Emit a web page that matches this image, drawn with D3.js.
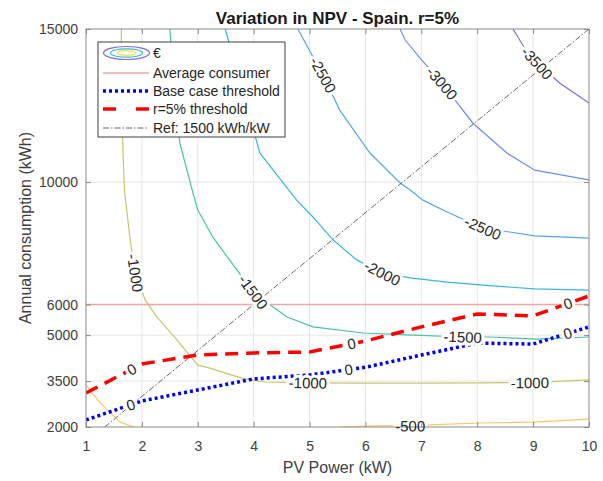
<!DOCTYPE html>
<html><head><meta charset="utf-8">
<script src="https://cdn.jsdelivr.net/npm/d3@7"></script>
<style>
body{margin:0;background:#fff;}
svg{font-family:"Liberation Sans",Arial,Helvetica,sans-serif;}
</style></head>
<body><svg id="c" width="603" height="481"></svg>
<script>
// ---------- data ----------
const xTicks = [1,2,3,4,5,6,7,8,9,10];
const yTicks = [2000,3500,5000,6000,10000,15000];
const levels = [-3500,-3000,-2500,-2000,-1500,-1000,-500];

// contour polylines [PV kW, kWh]
const npv_m3500 = [[8.64,15000],[8.89,14250],[9.07,13890],[9.48,13230],[10,12580]];
const npv_m3000 = [[6.62,15000],[6.71,14640],[7.0,14000],[7.37,13230],[7.92,11930],[8.53,10950],[9.03,10390],[10,10070]];
const npv_m2500 = [[4.79,15000],[5.0,14300],[5.24,13500],[5.54,12350],[6.08,10950],[6.62,9970],[6.8,9740],[7.03,9410],[7.46,9020],[8.1,8500],[8.58,8370],[9.03,8240],[10,8170]];
const npv_m2000 = [[3.49,15000],[3.70,13660],[4.11,10950],[4.45,10150],[4.77,9410],[5.06,8860],[5.42,8110],[5.85,7450],[6.30,7030],[6.80,6870],[7.46,6735],[8.05,6640],[9.03,6510],[10,6470]];
const npv_m1500 = [[2.50,15000],[2.58,13000],[2.68,11270],[2.90,9740],[3.0,9090],[3.27,8200],[3.70,7130],[3.99,6410],[4.35,5920],[4.60,5590],[5.06,5270],[5.96,5070],[6.85,5000],[7.74,4940],[8.23,4940],[9.07,4870],[10,4940]];
const npv_m1000 = [[1.63,15000],[1.66,11000],[1.69,9700],[1.79,8110],[1.88,7030],[2.06,6150],[2.27,5590],[2.6,4900],[3.0,4020],[3.2,3930],[3.8,3590],[4.2,3470],[5,3440],[6,3430],[7,3430],[8,3440],[9,3460],[10,3540]];
const npv_m500a = [[1,3380],[1.2,2900],[1.38,2560],[1.61,2160],[1.85,2000]];
const npv_m500b = [[5.55,2000],[6.0,2030],[6.8,2050],[7.15,2070],[8.05,2130],[9.0,2160],[10,2260]];

// contour label anchors [PV kW, kWh]
const lab_m3500 = [[9.07,13890]];
const lab_m3000 = [[7.37,13230]];
const lab_m2500 = [[5.24,13500],[8.1,8500]];
const lab_m2000 = [[6.30,7030]];
const lab_m1500 = [[3.99,6410],[7.74,4940]];
const lab_m1000 = [[1.88,7030],[4.97,3440],[8.94,3445]];
const lab_m500  = [[6.8,2030]];

// thresholds (NPV = 0) vs PV power
const pvPower = [1,2,3,4,5,6,7,8,9,10];
const baseThreshold = [2230,2850,3210,3570,3700,3950,4350,4740,4710,5270];
const r5Threshold   = [3110,4060,4350,4420,4450,4810,5270,5690,5630,6280];
const baseLabelX = [1.80,5.70,9.62];
const r5LabelX   = [1.82,5.75,9.62];

const averageConsumer = 6000;
const refYield = 1500; // kWh/kW

const legendLabels = ["€","Average consumer","Base case threshold","r=5% threshold","Ref: 1500 kWh/kW"];
const title = "Variation in NPV - Spain. r=5%";

// ---------- drawing ----------
const levelColor = {"-3500":"#7c70d8","-3000":"#6e8cf0","-2500":"#52a6f2","-2000":"#34b7e2","-1500":"#45c4a6","-1000":"#c9c66c","-500":"#fbc85e"};
const L=86,R=589,T=29,B=427;
const x = d3.scaleLinear([1,10],[L,R]);
const y = d3.scaleLinear([2000,15000],[B,T]);
const svg = d3.select("#c");

svg.append("defs").append("clipPath").attr("id","clip")
  .append("rect").attr("x",L).attr("y",T).attr("width",R-L).attr("height",B-T);

// grid
const grid = svg.append("g");
grid.selectAll(".gx").data(xTicks.slice(1,-1)).join("line")
  .attr("x1",d=>x(d)).attr("x2",d=>x(d)).attr("y1",T).attr("y2",B)
  .attr("stroke","#e6e6e6").attr("stroke-width",1);
grid.selectAll(".gy").data(yTicks.slice(1,-1)).join("line")
  .attr("y1",d=>y(d)).attr("y2",d=>y(d)).attr("x1",L).attr("x2",R)
  .attr("stroke","#e6e6e6").attr("stroke-width",1);

const plot = svg.append("g").attr("clip-path","url(#clip)");
const line = d3.line().x(d=>x(d[0])).y(d=>y(d[1]));

const contours = [
  {lv:-3500, pts:npv_m3500, labs:lab_m3500},
  {lv:-3000, pts:npv_m3000, labs:lab_m3000},
  {lv:-2500, pts:npv_m2500, labs:lab_m2500},
  {lv:-2000, pts:npv_m2000, labs:lab_m2000},
  {lv:-1500, pts:npv_m1500, labs:lab_m1500},
  {lv:-1000, pts:npv_m1000, labs:lab_m1000},
  {lv:-500,  pts:npv_m500a, labs:[]},
  {lv:-500,  pts:npv_m500b, labs:lab_m500},
];
contours.forEach(c=>{
  plot.append("path").attr("d",line(c.pts)).attr("fill","none")
    .attr("stroke",levelColor[c.lv]).attr("stroke-width",1.2);
});

// average consumer
plot.append("line").attr("x1",L).attr("x2",R).attr("y1",y(averageConsumer)).attr("y2",y(averageConsumer))
  .attr("stroke","#f7a3a3").attr("stroke-width",1.6);
// ref line
plot.append("path").attr("d",line([[2000/refYield,2000],[10,10*refYield]]))
  .attr("fill","none").attr("stroke","#555").attr("stroke-width",0.9).attr("stroke-dasharray","6,2,1.5,2");
// thresholds
const baseData = pvPower.map((p,i)=>[p,baseThreshold[i]]);
const r5Data = pvPower.map((p,i)=>[p,r5Threshold[i]]);
plot.append("path").attr("d",line(r5Data)).attr("fill","none")
  .attr("stroke","#ff0000").attr("stroke-width",3.5).attr("stroke-dasharray","13,8");
plot.append("path").attr("d",line(baseData)).attr("fill","none")
  .attr("stroke","#0000ff").attr("stroke-width",3.5).attr("stroke-dasharray","3,3");

// labels
function angleAt(pts, px, py){
  let best=1e9, ang=0;
  for(let i=0;i<pts.length-1;i++){
    const x1=x(pts[i][0]),y1=y(pts[i][1]),x2=x(pts[i+1][0]),y2=y(pts[i+1][1]);
    const dx=x2-x1, dy=y2-y1, l2=dx*dx+dy*dy;
    let t=((px-x1)*dx+(py-y1)*dy)/l2; t=Math.max(0,Math.min(1,t));
    const qx=x1+t*dx, qy=y1+t*dy, d=(qx-px)**2+(qy-py)**2;
    if(d<best){best=d; ang=Math.atan2(dy,dx)*180/Math.PI;}
  }
  if(ang>90) ang-=180; if(ang<-90) ang+=180;
  return ang;
}
const labels=[];
contours.forEach(c=>c.labs.forEach(a=>{
  const px=x(a[0]), py=y(a[1]);
  labels.push({t:String(c.lv), px, py, ang:angleAt(c.pts,px,py)});
}));
function thrLabels(data, xs){
  xs.forEach(v=>{
    const i=Math.min(data.length-2,Math.floor(v-1));
    const f=v-data[i][0];
    const val=data[i][1]+(data[i+1][1]-data[i][1])*f;
    const px=x(v), py=y(val);
    labels.push({t:"0",px,py,ang:angleAt(data,px,py)});
  });
}
thrLabels(r5Data, r5LabelX);
thrLabels(baseData, baseLabelX);

const halo = svg.append("g");
labels.forEach(l=>{
  halo.append("text").attr("transform",`translate(${l.px},${l.py}) rotate(${l.ang})`)
    .attr("text-anchor","middle").attr("dy","0.36em").attr("font-size",15)
    .attr("fill","#fff").attr("stroke","#fff").attr("stroke-width",6).attr("stroke-linejoin","round")
    .text(l.t);
});

// axes box + ticks
const ax = svg.append("g").attr("font-size",14);
const axColor="#8a8a8a";
ax.append("rect").attr("x",L).attr("y",T).attr("width",R-L).attr("height",B-T)
  .attr("fill","none").attr("stroke",axColor).attr("stroke-width",1);
const gb = ax.append("g").attr("transform",`translate(0,${B})`)
  .call(d3.axisBottom(x).tickValues(xTicks).tickSizeInner(-5).tickSizeOuter(0).tickPadding(14).tickFormat(d3.format("d")));
const gl = ax.append("g").attr("transform",`translate(${L},0)`)
  .call(d3.axisLeft(y).tickValues(yTicks).tickSizeInner(-5).tickSizeOuter(0).tickPadding(8).tickFormat(d3.format("d")));
const gt = ax.append("g").attr("transform",`translate(0,${T})`)
  .call(d3.axisTop(x).tickValues(xTicks).tickSizeInner(-5).tickSizeOuter(0).tickFormat(""));
const gr = ax.append("g").attr("transform",`translate(${R},0)`)
  .call(d3.axisRight(y).tickValues(yTicks).tickSizeInner(-5).tickSizeOuter(0).tickFormat(""));
[gb,gl,gt,gr].forEach(g=>{
  g.select(".domain").remove();
  g.selectAll(".tick line").attr("stroke",axColor);
  g.selectAll("text").attr("fill","#404040").attr("font-size",14).attr("font-family",null);
  g.attr("font-family",null);
});

// label texts
const lt = svg.append("g");
labels.forEach(l=>{
  lt.append("text").attr("transform",`translate(${l.px},${l.py}) rotate(${l.ang})`)
    .attr("text-anchor","middle").attr("dy","0.36em").attr("font-size",15).attr("fill","#262626")
    .text(l.t);
});

// titles
svg.append("text").attr("x",(L+R)/2).attr("y",24).attr("text-anchor","middle")
  .attr("font-size",17).attr("font-weight","bold").attr("fill","#1a1a1a").text(title);
svg.append("text").attr("x",(L+R)/2).attr("y",473).attr("text-anchor","middle")
  .attr("font-size",16).attr("fill","#404040").text("PV Power (kW)");
svg.append("text").attr("transform",`translate(31,${(T+B)/2}) rotate(-90)`).attr("text-anchor","middle")
  .attr("font-size",16).attr("fill","#404040").text("Annual consumption (kWh)");

// legend
const lg = svg.append("g");
lg.append("rect").attr("x",98).attr("y",42).attr("width",187).attr("height",95)
  .attr("fill","#fff").attr("stroke","#404040").attr("stroke-width",1);
const rowY = [53,73,91,109,128];
const sx1=103, sx2=149, tx=153;
lg.append("ellipse").attr("cx",126.5).attr("cy",rowY[0]).attr("rx",23).attr("ry",6.5).attr("fill","none").attr("stroke",levelColor["-3500"]).attr("stroke-width",1.2);
lg.append("ellipse").attr("cx",126.5).attr("cy",rowY[0]).attr("rx",16).attr("ry",4.2).attr("fill","none").attr("stroke",levelColor["-2000"]).attr("stroke-width",1.2);
lg.append("ellipse").attr("cx",126.5).attr("cy",rowY[0]).attr("rx",9).attr("ry",2.3).attr("fill","none").attr("stroke","#f5e23a").attr("stroke-width",1.2);
lg.append("line").attr("x1",sx1).attr("x2",sx2).attr("y1",rowY[1]).attr("y2",rowY[1]).attr("stroke","#f7a3a3").attr("stroke-width",1.6);
lg.append("line").attr("x1",sx1).attr("x2",sx2).attr("y1",rowY[2]).attr("y2",rowY[2]).attr("stroke","#0000ff").attr("stroke-width",3.5).attr("stroke-dasharray","3,3");
lg.append("line").attr("x1",sx1).attr("x2",sx2).attr("y1",rowY[3]).attr("y2",rowY[3]).attr("stroke","#ff0000").attr("stroke-width",3.5).attr("stroke-dasharray","13,20");
lg.append("line").attr("x1",sx1).attr("x2",sx2).attr("y1",rowY[4]).attr("y2",rowY[4]).attr("stroke","#555").attr("stroke-width",0.9).attr("stroke-dasharray","6,2,1.5,2");
legendLabels.forEach((t,i)=>{
  lg.append("text").attr("x",tx).attr("y",rowY[i]).attr("dy","0.35em").attr("font-size",14).attr("fill","#262626").text(t);
});
</script></body></html>
